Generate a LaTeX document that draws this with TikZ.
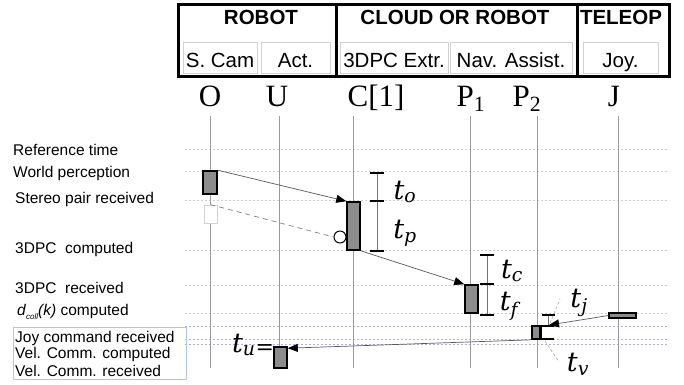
\documentclass[tikz,border=0pt]{standalone}
\usepackage{fontspec}
\setmainfont{Liberation Sans}
\newfontfamily\lifefont{Liberation Serif}
\newfontfamily\tfont{DejaVu Serif}
\usepackage{tikz}
\usetikzlibrary{arrows.meta}
\definecolor{boxgray}{HTML}{8C8C8C}
\definecolor{linegray}{HTML}{9A9A9A}
\definecolor{dotgray}{HTML}{CCCCCC}
\definecolor{dotblue}{HTML}{ABABE6}
\definecolor{subgray}{HTML}{D2D2D2}
\definecolor{framebl}{HTML}{B4C4E4}
\tikzset{
    headtext/.style = {
        font=\fontsize{20.5}{24}\selectfont\bfseries,
        inner sep=0pt
    },
    cellbox/.style = {
        draw=subgray,
        line width=0.8pt,
        font=\fontsize{20.5}{24}\selectfont,
        text height=19pt,
        text depth=0pt,
        minimum height=31pt,
        inner sep=0pt
    },
    lifelabel/.style = {
        font=\lifefont\fontsize{31}{34}\selectfont,
        anchor=base,
        inner sep=0pt
    },
    lifeline/.style = {
        draw=linegray,
        line width=0.8pt
    },
    gridline/.style = {
        draw=dotgray,
        line width=0.7pt,
        dash pattern=on 2pt off 2pt
    },
    bluegrid/.style = {
        gridline,
        draw=dotblue
    },
    rowlabel/.style = {
        font=\fontsize{15.5}{18}\selectfont,
        anchor=base west,
        inner sep=0pt
    },
    eventbox/.style = {
        draw=black,
        fill=boxgray,
        line width=1.6pt,
        inner sep=0pt
    },
    ghostbox/.style = {
        draw=subgray,
        fill=white,
        line width=0.8pt,
        inner sep=0pt
    },
    msgarrow/.style = {
        draw=black!65,
        line width=0.7pt,
        -{Triangle[length=10pt,width=8pt,color=black]}
    },
    tlabel/.style = {
        font=\tfont\itshape\fontsize{27}{30}\selectfont,
        inner sep=0pt
    },
    timebar/.style = {
        draw=black!55,
        line width=0.7pt
    },
    barcap/.style = {
        draw=black,
        line width=2pt
    },
    leader/.style = {
        draw=black!35,
        line width=0.6pt,
        dash pattern=on 3pt off 2pt
    }
}
\begin{document}
\begin{tikzpicture}[x=1pt, y=-1pt]
    \useasboundingbox (0,0) rectangle (684,384);

    \draw[line width=3pt] (178,4) rectangle (669,76);
    \draw[line width=3pt] (336,4) -- (336,76);
    \draw[line width=3pt] (577,4) -- (577,76);
    \node[headtext] (hrobot) at (261,17.5) {ROBOT};
    \node[headtext] (hcloud) at (455,17.5) {CLOUD OR ROBOT};
    \node[headtext] (hteleop) at (621,17.5) {TELEOP};
    \node[cellbox, minimum width=74pt] (cscam) at (220,57.5) {S. Cam};
    \node[cellbox, minimum width=69pt] (cact) at (295.5,57.5) {Act.};
    \node[cellbox, minimum width=108pt] (cextr) at (394,57.5) {3DPC Extr.};
    \node[cellbox, minimum width=122pt] (cnav) at (511,57.5) {Nav. Assist.};
    \node[cellbox, minimum width=75pt] (cjoy) at (620.5,57.5) {Joy.};

    \node[lifelabel] (lO) at (210,106) {O};
    \node[lifelabel] (lU) at (277,106) {U};
    \node[lifelabel] (lC) at (376,106) {C[1]};
    \node[lifelabel] (lP1) at (471,106) {P\textsubscript{1}};
    \node[lifelabel] (lP2) at (527,106) {P\textsubscript{2}};
    \node[lifelabel] (lJ) at (614,106) {J};

    \foreach \y in {149,171,200,250,285,313}
        \draw[gridline] (185,\y) -- (668,\y);
    \foreach \y in {326,339,344}
        \draw[bluegrid] (185,\y) -- (668,\y);

    \foreach \name/\x in {O/210,U/279,C/353,P1/470,P2/537,J/618}
        \draw[lifeline] (\x,116) coordinate (top\name) -- (\x,368) coordinate (bot\name);

    \node[rowlabel] (rref) at (13,155) {Reference time};
    \node[rowlabel] (rworld) at (13,177) {World perception};
    \node[rowlabel] (rstereo) at (15,203) {Stereo pair received};
    \node[rowlabel] (rpcc) at (15,253) {3DPC\ \ computed};
    \node[rowlabel] (rpcr) at (15,293) {3DPC\ \ received};
    \node[rowlabel] (rdcoll) at (17,315) {\textit{d}\raisebox{-4pt}{\fontsize{8}{8}\selectfont\itshape coll}\textit{(k)} computed};
    \node[draw=framebl, line width=0.8pt, minimum width=173pt, minimum height=52pt,
          anchor=north west, inner sep=0pt] (joyframe) at (12.7,327) {};
    \node[rowlabel] (rjoy) at (15,342) {Joy command received};
    \node[rowlabel] (rvelc) at (15,358.5) {Vel. Comm. computed};
    \node[rowlabel] (rvelr) at (15,376) {Vel. Comm. received};

    \node[eventbox, minimum width=14pt, minimum height=23pt] (evO) at (210,182.5) {};
    \node[ghostbox, minimum width=13pt, minimum height=18pt] (evOw) at (210.5,214) {};
    \node[draw, fill=white, circle, minimum size=12pt, inner sep=0pt, line width=1pt] (pcdone) at (340,237) {};
    \node[eventbox, minimum width=13pt, minimum height=48pt] (evC) at (353.5,226) {};
    \node[eventbox, minimum width=13pt, minimum height=28pt] (evP1) at (471.5,299) {};
    \node[eventbox, minimum width=8pt, minimum height=13pt] (evP2) at (536,332.5) {};
    \node[eventbox, minimum width=27pt, minimum height=5pt, line width=1.2pt] (evJ) at (622.5,315.5) {};
    \node[eventbox, minimum width=13pt, minimum height=21pt] (evU) at (280.5,357.5) {};

    \draw[msgarrow] (evO.north east) -- (evC.north west);
    \draw[draw=black!50, line width=0.7pt, dash pattern=on 5pt off 4pt] (evOw.north) -- (pcdone.west);
    \draw[msgarrow] (evC.south east) -- (evP1.north west);
    \coordinate (jarrive) at (549,325);
    \draw[msgarrow] (evJ.west) -- (jarrive);
    \draw[msgarrow] (evP2.south west) -- ([yshift=-2pt]evU.north east);

    \draw[timebar] (377,173) coordinate (opa) -- (377,251) coordinate (opc);
    \coordinate (opb) at (377,201);
    \draw[timebar] (487,255) coordinate (cfa) -- (487,315) coordinate (cfc);
    \coordinate (cfb) at (487,284);
    \foreach \c in {opa,opb,opc,cfa,cfb,cfc}
        \draw[barcap] ([xshift=-7pt]\c) -- ([xshift=7pt]\c);
    \draw[timebar] (548,315) coordinate (ja) -- (548,326) coordinate (jb);
    \draw[barcap] ([xshift=-6pt]ja) -- ([xshift=7pt]ja);
    \draw[barcap] (541,326) coordinate (va) -- (554,326);
    \draw[barcap] (541,339) coordinate (vb) -- (554,339);
    \draw[line width=1.5pt] (va) -- (vb);
    \draw[leader] (550,323) -- (560,299);
    \draw[leader] (545,341) -- (559,362);

    \node[tlabel] (to) at (405,192) {t\textsubscript{o}};
    \node[tlabel] (tp) at (405,233) {t\textsubscript{p}};
    \node[tlabel] (tc) at (512,271) {t\textsubscript{c}};
    \node[tlabel] (tf) at (509,306) {t\textsubscript{f}};
    \node[tlabel] (tj) at (579,303) {t\textsubscript{j}};
    \node[tlabel] (tv) at (578,364) {t\textsubscript{v}};
    \node[tlabel] (tu) at (253,345) {t\textsubscript{u}\raisebox{-2pt}{\upshape\fontsize{22}{22}\selectfont=}};
\end{tikzpicture}
\end{document}
